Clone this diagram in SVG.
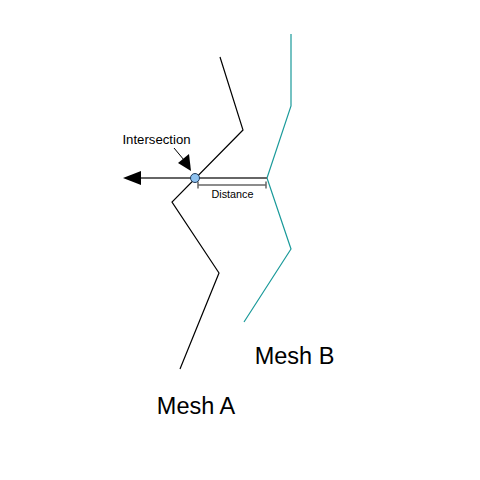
<svg xmlns="http://www.w3.org/2000/svg" width="480" height="480" viewBox="0 0 480 480">
<defs>
<style>
.t{font-family:"Liberation Sans",Arial,sans-serif;fill:#000}
.mesh{fill:none;stroke-width:1.2}
</style>
</defs>
<rect width="480" height="480" fill="#fff"/>
<g id="meshA">
<polyline class="mesh" stroke="#000" points="220,57 243,130 172,202 219,273 180,369"/>
<text class="t" x="196" y="414" font-size="23.5" text-anchor="middle">Mesh A</text>
</g>
<g id="meshB">
<polyline class="mesh" stroke="#1a9a9a" points="291,34 291,106 267,178 291,249 244,322"/>
<text class="t" x="294.5" y="364" font-size="23.5" text-anchor="middle">Mesh B</text>
</g>
<g id="connectors">
<line x1="140" y1="178" x2="267" y2="178" stroke="#666" stroke-width="2"/>
<path d="M123,178 L141,171 L141,185 Z" fill="#000"/>
<line x1="174" y1="148" x2="184" y2="160" stroke="#000" stroke-width="1"/>
<path d="M191,171 L178,163 L189,154 Z" fill="#000"/>
<line x1="198" y1="185" x2="266" y2="185" stroke="#666" stroke-width="1.5"/>
<line x1="198" y1="181.5" x2="198" y2="188.5" stroke="#666" stroke-width="1.5"/>
<line x1="266" y1="181.5" x2="266" y2="188.5" stroke="#666" stroke-width="1.5"/>
</g>
<g id="intersection">
<circle cx="195" cy="178" r="4.5" fill="#8ec2f0" stroke="#1f3a5a" stroke-width="1"/>
<text class="t" x="156.5" y="144" font-size="13.2" text-anchor="middle">Intersection</text>
</g>
<g id="distance">
<text class="t" x="232.5" y="198" font-size="10.8" text-anchor="middle">Distance</text>
</g>
</svg>
